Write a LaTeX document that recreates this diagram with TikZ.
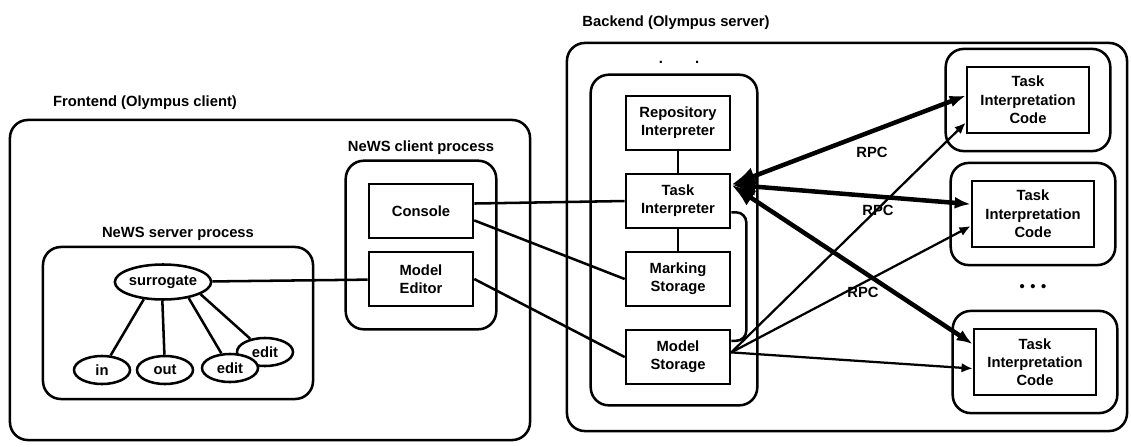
\documentclass[tikz,border=0pt]{standalone}
\usepackage{fontspec}
\setmainfont{Liberation Sans}
\usetikzlibrary{shapes.geometric, arrows.meta, fit}

\begin{document}
\begin{tikzpicture}[x=0.025cm, y=-0.025cm, node distance=1.95cm,
  font=\fontsize{10.5}{13}\selectfont\bfseries,
  unitbox/.style={draw, line width=1.8pt, minimum width=2.6cm, minimum height=1.35cm, align=center},
  codebox/.style={draw, line width=1.8pt, minimum width=3.05cm, minimum height=1.65cm, align=center},
  frame/.style={draw, line width=1.8pt, rounded corners=0.45cm},
  bubble/.style={draw, ellipse, line width=1.8pt, inner sep=0pt, minimum width=1.4cm, minimum height=0.7cm, fill=white},
  wire/.style={line width=1.8pt},
  callarrow/.style={{Latex[length=0.6cm,width=0.45cm]}-{Latex[length=0.4cm,width=0.3cm]}, line width=3.2pt},
  dataarrow/.style={-{Latex[length=0.28cm,width=0.24cm]}, line width=1.6pt}]

\useasboundingbox (0,0) rectangle (1131,447);

% frontend side
\node (frontf) [frame, minimum width=13cm, minimum height=8cm] at (270,280) {};
\node (frontlbl) at (145,103) {Frontend (Olympus client)};
\node (serverf) [frame, minimum width=6.75cm, minimum height=3.8cm] at (178,323) {};
\node (serverlbl) [above] at (serverf.north) {NeWS server process};
\node (surrogate) [bubble, minimum width=2cm, minimum height=0.875cm] at (163,282) {surrogate};
\node (in) [bubble] at (102,370) {in};
\node (out) [bubble] at (165,370) {out};
\node (edit2) [bubble] at (265,352) {edit};
\node (edit1) [bubble] at (230,368) {edit};
\node (console) [unitbox] at (421,211) {Console};
\node (editor) [unitbox, below of=console, node distance=1.7cm] {Model\\Editor};
\node (clientf) [frame, fit=(console)(editor), inner sep=0.55cm] {};
\node (clientlbl) [above] at (clientf.north) {NeWS client process};

% backend side
\node (backf) [frame, minimum width=14cm, minimum height=9.7cm] at (847,237) {};
\node (backlbl) at (676,23) {Backend (Olympus server)};
\node (dots) at (679,62) {.\hspace{0.8cm}.};
\node (repo) [unitbox] at (678,123) {Repository\\Interpreter};
\node (task) [unitbox, below of=repo] {Task\\Interpreter};
\node (marking) [unitbox, below of=task] {Marking\\Storage};
\node (model) [unitbox, below of=marking] {Model\\Storage};
\node (storef) [frame, fit=(repo)(model), inner xsep=0.75cm, inner ysep=0.5cm, xshift=-0.1cm] {};
\node (code1) [codebox] at (1028,100) {Task\\Interpretation\\Code};
\node (code2) [codebox] at (1033,214) {Task\\Interpretation\\Code};
\node (code3) [codebox] at (1035,362) {Task\\Interpretation\\Code};
\node (code1f) [frame, fit=(code1), inner xsep=0.5cm, inner ysep=0.42cm] {};
\node (code2f) [frame, fit=(code2), inner xsep=0.5cm, inner ysep=0.42cm] {};
\node (code3f) [frame, fit=(code3), inner xsep=0.5cm, inner ysep=0.42cm] {};
\node (more) at (1033,288) {•\hspace{4pt}•\hspace{4pt}•};
\node (rpc1) at (872,152) {RPC};
\node (rpc2) at (878,210) {RPC};
\node (rpc3) at (863,292) {RPC};

\draw[wire] (surrogate.222) -- (in);
\draw[wire] (surrogate.268) -- (out);
\draw[wire] (surrogate.328) -- (edit1);
\draw[wire] (surrogate.342) -- (edit2);
\draw[wire] (surrogate) -- (editor);
\draw[wire] (console.8) -- (task.west);
\draw[wire] (console.-10) -- (marking.west);
\draw[wire] (editor.east) -- (model.west);
\draw[wire] (repo) -- (task);
\draw[wire] (task) -- (marking);
\draw[wire, rounded corners=0.25cm] (task.-12) -- ++(15,0) |- (model.17);
\draw[callarrow] (task.17) -- (code1.176);
\draw[callarrow] (task.17) -- (code2.171);
\draw[callarrow] (task.17) -- (code3.164);
\draw[dataarrow] (model.5) -- (code1.200);
\draw[dataarrow] (model.5) -- (code2.191);
\draw[dataarrow] (model.5) -- (code3.186);
\end{tikzpicture}
\end{document}
